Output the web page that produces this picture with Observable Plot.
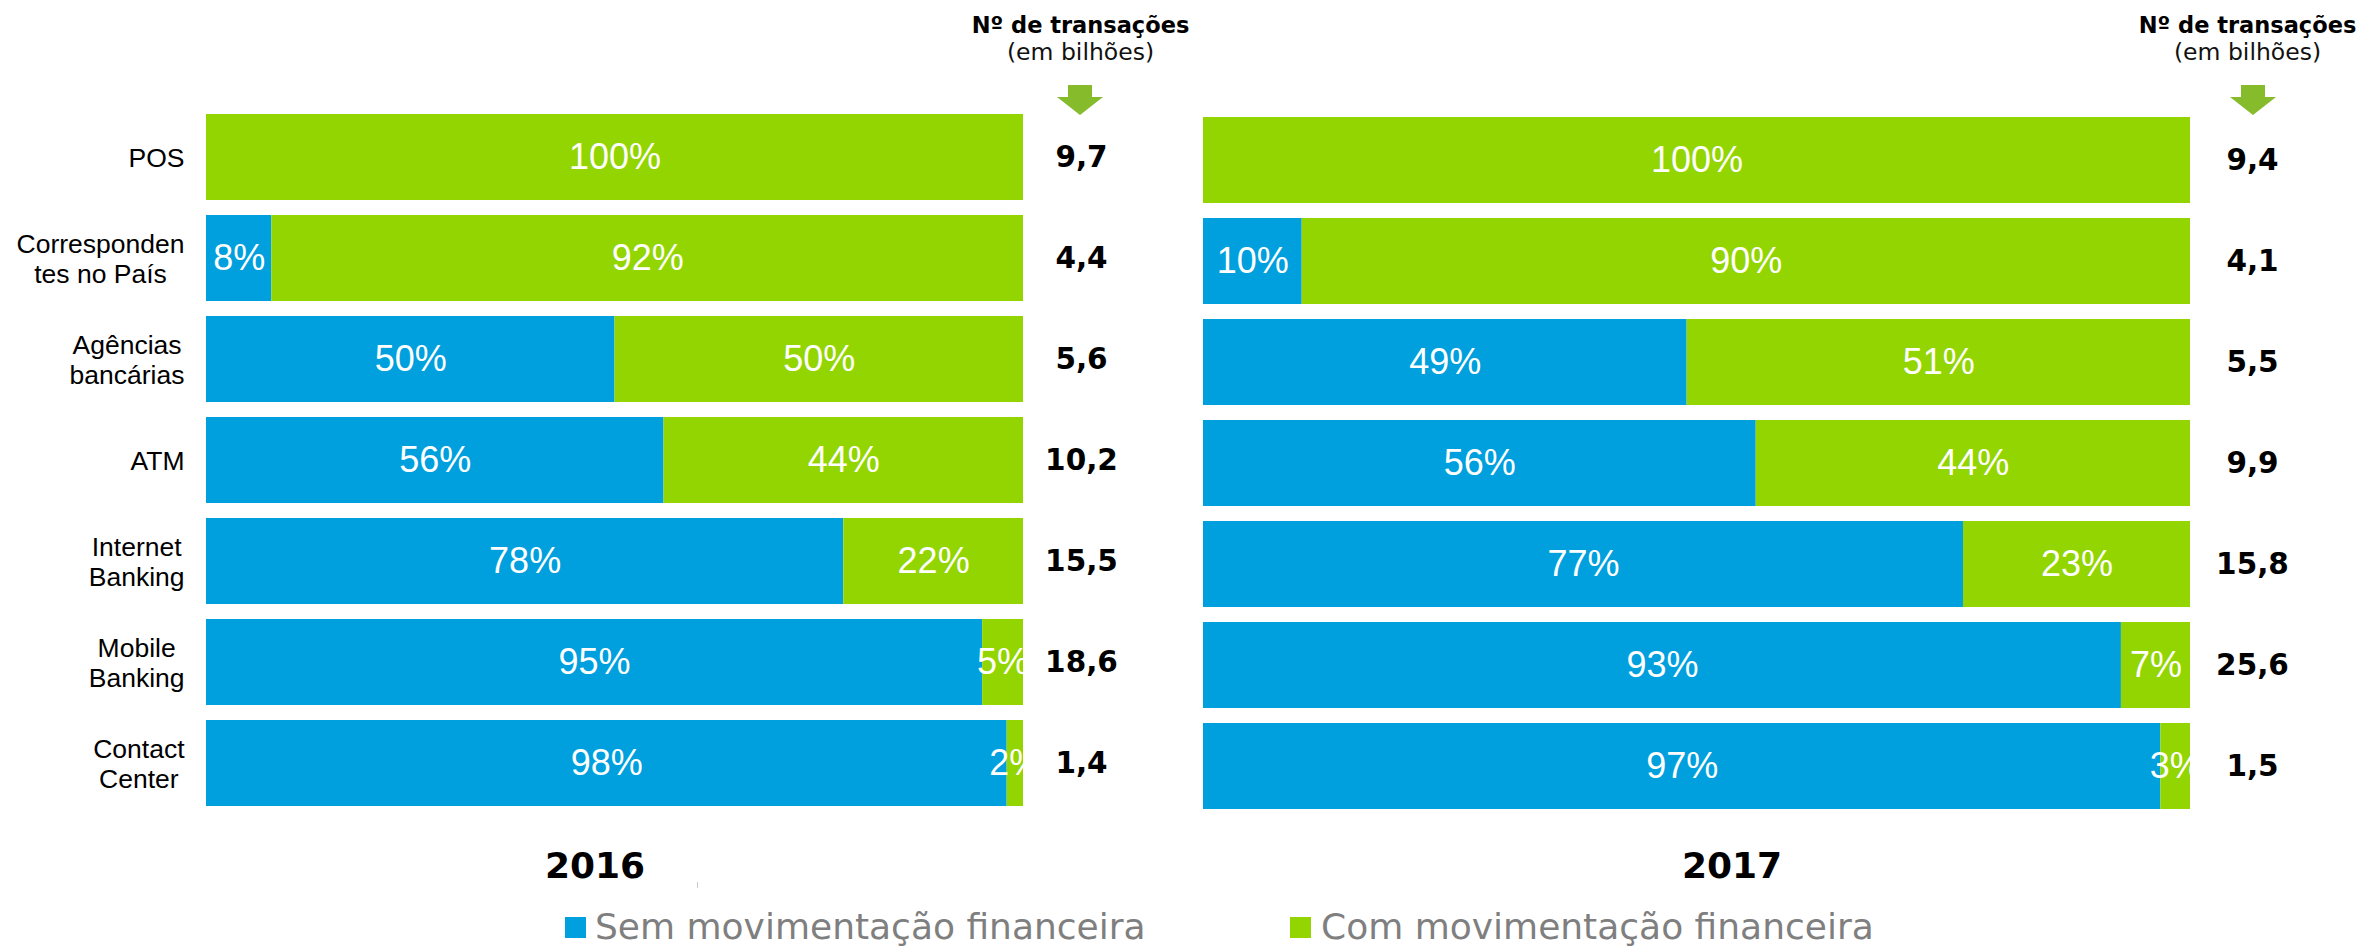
<!DOCTYPE html>
<html>
<head>
<meta charset="utf-8">
<script src="https://cdn.jsdelivr.net/npm/d3@7"></script>
<script src="https://cdn.jsdelivr.net/npm/@observablehq/plot@0.6"></script>
<style>
  html, body { margin: 0; padding: 0; background: #fff; }
  #wrap { position: relative; width: 2369px; height: 947px; overflow: hidden; }
  .panel { position: absolute; top: 0; }
  .sw { position: absolute; width: 21px; height: 21px; }
  .lg { position: absolute; font-family: "DejaVu Sans", Verdana, sans-serif; font-size: 36px; line-height: 36px; color: #7f7f7f; white-space: nowrap; }
  .tick { position: absolute; width: 1px; height: 6px; background: #c8c8c8; }
</style>
</head>
<body>
<div id="wrap"></div>
<script>
// ---- data ----
const categories = ["POS", "Corresponden\ntes no País", "Agências\nbancárias", "ATM", "Internet\nBanking", "Mobile\nBanking", "Contact\nCenter"];
const seriesNames = ["Sem movimentação financeira", "Com movimentação financeira"];
const seriesColors = ["#00a0de", "#93d500"];
const years = ["2016", "2017"];
const sem2016 = [0, 8, 50, 56, 78, 95, 98];
const com2016 = [100, 92, 50, 44, 22, 5, 2];
const sem2017 = [0, 10, 49, 56, 77, 93, 97];
const com2017 = [100, 90, 51, 44, 23, 7, 3];
const trans2016 = [9.7, 4.4, 5.6, 10.2, 15.5, 18.6, 1.4];
const trans2017 = [9.4, 4.1, 5.5, 9.9, 15.8, 25.6, 1.5];
const headerTitle = "Nº de transações";
const headerSub = "(em bilhões)";

const fmtNum = v => v.toFixed(1).replace(".", ",");

const canvas = document.createElement("canvas");
const ctx = canvas.getContext("2d");
const catFont = 26.5;
ctx.font = `${catFont}px "Liberation Sans"`;
const catWidth = c => d3.max(c.split("\n"), l => ctx.measureText(l).width);

function panel(cfg) {
  const {year, sem, com, trans, showLabels} = cfg;
  const rows = [
    ...categories.map((c, i) => ({cat: c, series: seriesNames[0], value: sem[i]})),
    ...categories.map((c, i) => ({cat: c, series: seriesNames[1], value: com[i]}))
  ];
  const nums = categories.map((c, i) => ({cat: c, value: trans[i]}));
  const marks = [
    Plot.barX(rows, Plot.stackX({x: "value", y: "cat", z: "series", fill: "series"})),
    Plot.text(rows, Plot.stackX({
      x: "value", y: "cat", z: "series",
      text: d => d.value > 0 ? d.value + "%" : "",
      fill: "white", fontSize: 36, fontFamily: "Liberation Sans, Arial, sans-serif",
      clip: true
    })),
    Plot.text(nums, {
      y: "cat", text: d => fmtNum(d.value), frameAnchor: "right", dx: cfg.numDx,
      textAnchor: "middle", fontSize: 29.5, fontWeight: "bold",
      fontFamily: "DejaVu Sans, Verdana, sans-serif", fill: "black"
    }),
    Plot.text([headerTitle], {
      text: d => d, frameAnchor: "top-right", dx: cfg.headDx, dy: cfg.headDy1,
      textAnchor: "middle", lineAnchor: "bottom", fontSize: 22.5, fontWeight: "bold",
      fontFamily: "DejaVu Sans, Verdana, sans-serif", fill: "black"
    }),
    Plot.text([headerSub], {
      text: d => d, frameAnchor: "top-right", dx: cfg.headDx, dy: cfg.headDy2,
      textAnchor: "middle", lineAnchor: "bottom", fontSize: 23.5,
      fontFamily: "DejaVu Sans, Verdana, sans-serif", fill: "#111"
    }),
    Plot.text([year], {
      text: d => d, frameAnchor: "bottom", dx: cfg.yearDx, dy: cfg.yearDy,
      textAnchor: "middle", lineAnchor: "bottom", fontSize: 36, fontWeight: "bold",
      fontFamily: "DejaVu Sans, Verdana, sans-serif", fill: "black"
    }),
    // green down arrow above the numbers column
    (index, scales, values, dim) => {
      const cx = dim.width - dim.marginRight + cfg.arrowDx;
      const top = dim.marginTop + cfg.arrowDy;
      const p = d3.path();
      p.moveTo(cx - 12, top); p.lineTo(cx + 12, top); p.lineTo(cx + 12, top + 12);
      p.lineTo(cx + 23, top + 12); p.lineTo(cx, top + 30); p.lineTo(cx - 23, top + 12);
      p.lineTo(cx - 12, top + 12); p.closePath();
      const el = document.createElementNS("http://www.w3.org/2000/svg", "path");
      el.setAttribute("d", p.toString());
      el.setAttribute("fill", "#86bc2c");
      return el;
    }
  ];
  if (showLabels) {
    categories.forEach(c => {
      const w = catWidth(c);
      marks.push(Plot.text([c], {
        y: d => d, text: d => d, frameAnchor: "left", dx: -(22 + w / 2),
        textAnchor: "middle", lineHeight: 1.15, fontSize: catFont,
        fontFamily: "Liberation Sans, Arial, sans-serif", fill: "black"
      }));
    });
  }
  return Plot.plot({
    width: cfg.width, height: cfg.height,
    marginLeft: cfg.marginLeft, marginRight: cfg.marginRight,
    marginTop: cfg.marginTop, marginBottom: cfg.marginBottom,
    x: {domain: [0, 100], axis: null},
    y: {domain: categories, axis: null, paddingInner: 0.15, paddingOuter: 0},
    color: {domain: seriesNames, range: seriesColors},
    style: {background: "transparent", overflow: "visible"},
    marks
  });
}

const wrap = document.getElementById("wrap");

const p1 = panel({
  year: years[0], sem: sem2016, com: com2016, trans: trans2016, showLabels: true,
  width: 1140, height: 900, marginLeft: 206, marginRight: 117, marginTop: 113, marginBottom: 93,
  numDx: 58, headDx: 57, headDy1: -81, headDy2: -54, yearDx: -20, yearDy: 70, arrowDx: 57, arrowDy: -28
});
p1.classList.add("panel"); p1.style.left = "0px";
wrap.appendChild(p1);

const p2 = panel({
  year: years[1], sem: sem2017, com: com2017, trans: trans2017, showLabels: false,
  width: 1189, height: 900, marginLeft: 23, marginRight: 179, marginTop: 116, marginBottom: 91,
  numDx: 62, headDx: 57, headDy1: -84, headDy2: -57, yearDx: 35, yearDy: 68, arrowDx: 63, arrowDy: -31
});
p2.classList.add("panel"); p2.style.left = "1180px";
wrap.appendChild(p2);

// legend
const legendPos = [{sq: 565, tx: 595}, {sq: 1290, tx: 1321}];
seriesNames.forEach((s, i) => {
  const sw = document.createElement("div");
  sw.className = "sw";
  sw.style.left = legendPos[i].sq + "px"; sw.style.top = "917px";
  sw.style.background = seriesColors[i];
  wrap.appendChild(sw);
  const t = document.createElement("div");
  t.className = "lg";
  t.textContent = s;
  t.style.left = legendPos[i].tx + "px"; t.style.top = "909px";
  wrap.appendChild(t);
});
const tk = document.createElement("div");
tk.className = "tick"; tk.style.left = "697px"; tk.style.top = "882px";
wrap.appendChild(tk);
</script>
</body>
</html>
